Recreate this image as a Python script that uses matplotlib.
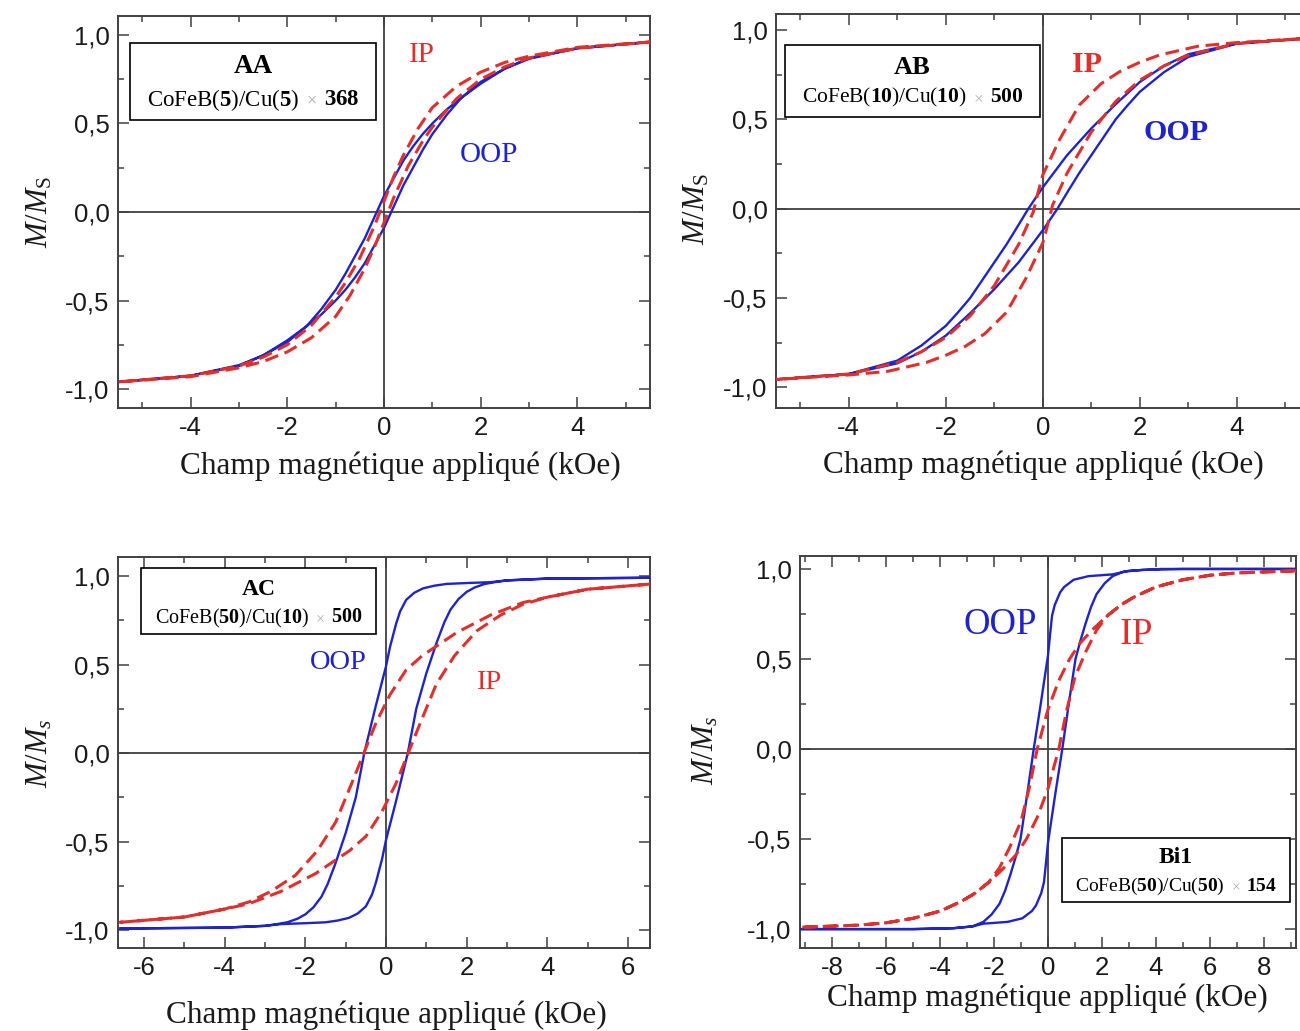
import matplotlib
matplotlib.use("Agg")
import matplotlib.pyplot as plt
from matplotlib.ticker import MultipleLocator, FuncFormatter
from matplotlib.patches import Rectangle
from matplotlib.offsetbox import TextArea, HPacker, AnnotationBbox

plt.rcParams['font.family'] = ['Liberation Sans', 'DejaVu Sans']
plt.rcParams['axes.unicode_minus'] = False
plt.rcParams['mathtext.fontset'] = 'custom'
plt.rcParams['mathtext.rm'] = 'Liberation Serif'
plt.rcParams['mathtext.it'] = 'Liberation Serif:italic'
plt.rcParams['mathtext.bf'] = 'Liberation Serif:bold'

# loops: field going down (upper branch) then back up (lower branch), kOe / M/Ms
aa_oop_h = [5.5, 4, 3, 2.5, 2, 1.6, 1.3, 1, 0.8, 0.6, 0.4, 0.2, 0, -0.2, -0.4, -0.6, -0.8, -1, -1.3, -1.6, -2, -2.5, -3, -4, -5.5,
            -4, -3, -2.5, -2, -1.6, -1.3, -1, -0.8, -0.6, -0.4, -0.2, 0, 0.2, 0.4, 0.6, 0.8, 1, 1.3, 1.6, 2, 2.5, 3, 4, 5.5]
aa_oop_m = [0.96, 0.925, 0.87, 0.81, 0.725, 0.645, 0.58, 0.5, 0.44, 0.37, 0.29, 0.19, 0.09, -0.03, -0.15, -0.25, -0.35, -0.44, -0.55, -0.645, -0.735, -0.81, -0.865, -0.925, -0.96,
            -0.925, -0.87, -0.81, -0.725, -0.645, -0.58, -0.5, -0.44, -0.37, -0.29, -0.19, -0.09, 0.03, 0.15, 0.25, 0.35, 0.44, 0.55, 0.645, 0.735, 0.81, 0.865, 0.925, 0.96]
aa_ip_h = [5.5, 4, 3, 2.5, 2, 1.5, 1, 0.7, 0.4, 0.2, 0, -0.2, -0.5, -0.8, -1, -1.5, -2, -2.5, -3, -4, -5.5,
           -4, -3, -2.5, -2, -1.5, -1, -0.7, -0.4, -0.2, 0, 0.2, 0.5, 0.8, 1, 1.5, 2, 2.5, 3, 4, 5.5]
aa_ip_m = [0.96, 0.93, 0.88, 0.845, 0.79, 0.71, 0.59, 0.47, 0.32, 0.2, 0.06, -0.08, -0.26, -0.40, -0.48, -0.64, -0.75, -0.82, -0.87, -0.925, -0.96,
           -0.93, -0.88, -0.845, -0.79, -0.71, -0.59, -0.47, -0.32, -0.2, -0.06, 0.08, 0.26, 0.40, 0.48, 0.64, 0.75, 0.82, 0.87, 0.925, 0.96]

ab_oop_h = [5.5, 4, 3, 2.5, 2, 1.5, 1, 0.5, 0.25, 0, -0.3, -0.5, -0.75, -1, -1.25, -1.5, -1.75, -2, -2.5, -3, -4, -5.5,
            -4, -3, -2.5, -2, -1.5, -1, -0.5, -0.25, 0, 0.3, 0.5, 0.75, 1, 1.25, 1.5, 1.75, 2, 2.5, 3, 4, 5.5]
ab_oop_m = [0.955, 0.925, 0.865, 0.80, 0.71, 0.585, 0.45, 0.3, 0.21, 0.12, 0.0, -0.09, -0.2, -0.3, -0.4, -0.5, -0.58, -0.655, -0.765, -0.85, -0.925, -0.955,
            -0.925, -0.865, -0.80, -0.71, -0.585, -0.45, -0.3, -0.21, -0.12, 0.0, 0.09, 0.2, 0.3, 0.4, 0.5, 0.58, 0.655, 0.765, 0.85, 0.925, 0.955]
ab_ip_h = [5.5, 4, 3.2, 2.4, 2, 1.6, 1.2, 0.75, 0.35, 0, -0.1, -0.2, -0.5, -1, -1.5, -2, -2.5, -3, -4, -5.5,
           -4, -3.2, -2.4, -2, -1.6, -1.2, -0.75, -0.35, 0, 0.1, 0.2, 0.5, 1, 1.5, 2, 2.5, 3, 4, 5.5]
ab_ip_m = [0.955, 0.93, 0.91, 0.86, 0.82, 0.77, 0.70, 0.58, 0.39, 0.19, 0.09, -0.02, -0.2, -0.43, -0.6, -0.72, -0.8, -0.86, -0.925, -0.955,
           -0.93, -0.91, -0.86, -0.82, -0.77, -0.70, -0.58, -0.39, -0.19, -0.09, 0.02, 0.2, 0.43, 0.6, 0.72, 0.8, 0.86, 0.925, 0.955]

ac_oop_h = [6.6, 4, 3, 2.6, 2, 1.5, 1.2, 0.92, 0.7, 0.5, 0.35, 0.25, 0.1, 0, -0.25, -0.54, -0.75, -1, -1.25, -1.45, -1.6, -1.8, -2, -2.2, -2.45, -2.7, -3, -4, -6.6,
            -4, -3, -2.6, -2, -1.5, -1.2, -0.92, -0.7, -0.5, -0.35, -0.25, -0.1, 0, 0.25, 0.54, 0.75, 1, 1.25, 1.45, 1.6, 1.8, 2, 2.2, 2.45, 2.7, 3, 4, 6.6]
ac_oop_m = [0.99, 0.985, 0.975, 0.965, 0.96, 0.955, 0.945, 0.93, 0.905, 0.865, 0.8, 0.73, 0.6, 0.49, 0.27, 0.0, -0.25, -0.45, -0.62, -0.74, -0.81, -0.87, -0.91, -0.935, -0.955, -0.965, -0.975, -0.985, -0.99,
            -0.985, -0.975, -0.965, -0.96, -0.955, -0.945, -0.93, -0.905, -0.865, -0.8, -0.73, -0.6, -0.49, -0.27, 0.0, 0.25, 0.45, 0.62, 0.74, 0.81, 0.87, 0.91, 0.935, 0.955, 0.965, 0.975, 0.985, 0.99]
ac_ip_h = [6.6, 5, 4, 3.4, 2.6, 1.75, 0.9, 0.5, 0.1, -0.25, -0.55, -0.85, -1.25, -1.7, -2.25, -2.85, -3.4, -4, -5, -6.6,
           -5, -4, -3.4, -2.6, -1.75, -0.9, -0.5, -0.1, 0.25, 0.55, 0.85, 1.25, 1.7, 2.25, 2.85, 3.4, 4, 5, 6.6]
ac_ip_m = [0.955, 0.925, 0.88, 0.85, 0.78, 0.68, 0.55, 0.47, 0.33, 0.17, 0.0, -0.17, -0.39, -0.55, -0.69, -0.78, -0.84, -0.88, -0.925, -0.955,
           -0.925, -0.88, -0.85, -0.78, -0.68, -0.55, -0.47, -0.33, -0.17, 0.0, 0.17, 0.39, 0.55, 0.69, 0.78, 0.84, 0.88, 0.925, 0.955]

bi1_oop_h = [9.2, 4.2, 3, 2.4, 1.5, 0.95, 0.6, 0.45, 0.25, 0.15, 0.08, 0, -0.28, -0.53, -0.78, -1.02, -1.2, -1.4, -1.6, -1.8, -2.1, -2.4, -2.8, -3.5, -5, -9.2,
             -5, -3.5, -2.8, -2.4, -1.5, -0.95, -0.6, -0.45, -0.25, -0.15, -0.08, 0, 0.28, 0.53, 0.78, 1.02, 1.2, 1.4, 1.6, 1.8, 2.1, 2.4, 2.8, 3.5, 5, 9.2]
bi1_oop_m = [1.0, 1.0, 0.99, 0.97, 0.96, 0.94, 0.9, 0.87, 0.8, 0.74, 0.64, 0.52, 0.24, 0.0, -0.26, -0.5, -0.6, -0.7, -0.79, -0.86, -0.92, -0.96, -0.985, -0.995, -1.0, -1.0,
             -1.0, -0.995, -0.985, -0.97, -0.96, -0.94, -0.9, -0.87, -0.8, -0.74, -0.64, -0.52, -0.24, 0.0, 0.26, 0.5, 0.6, 0.7, 0.79, 0.86, 0.92, 0.96, 0.985, 0.995, 1.0, 1.0]
bi1_ip_h = [9.2, 7, 6, 5, 4, 3.2, 2.7, 2.2, 1.7, 1.2, 0.8, 0.4, 0, -0.4, -0.7, -1, -1.4, -1.8, -2.2, -2.7, -3.2, -4, -5, -6, -7, -9.2,
            -7, -6, -5, -4, -3.2, -2.7, -2.2, -1.7, -1.2, -0.8, -0.4, 0, 0.4, 0.7, 1, 1.4, 1.8, 2.2, 2.7, 3.2, 4, 5, 6, 7, 9.2]
bi1_ip_m = [0.99, 0.978, 0.965, 0.94, 0.9, 0.845, 0.8, 0.74, 0.67, 0.59, 0.5, 0.38, 0.22, 0.0, -0.22, -0.4, -0.54, -0.66, -0.74, -0.8, -0.845, -0.9, -0.94, -0.965, -0.978, -0.99,
            -0.978, -0.965, -0.94, -0.9, -0.845, -0.8, -0.74, -0.67, -0.59, -0.5, -0.38, -0.22, 0.0, 0.22, 0.4, 0.54, 0.66, 0.74, 0.8, 0.845, 0.9, 0.94, 0.965, 0.978, 0.99]

BLUE = '#1f24c8'
RED = '#e0302e'
SERIF = ['Liberation Serif', 'DejaVu Serif']
W, H = 1300, 1031

fig = plt.figure(figsize=(13, 10.31), dpi=100)


def make_ax(px0, px1, py0, py1):
    return fig.add_axes([px0 / W, 1 - py1 / H, (px1 - px0) / W, (py1 - py0) / H])


def style(ax, xlim, ylim, xmajor, right=True):
    ax.set_xlim(*xlim)
    ax.set_ylim(*ylim)
    ax.axhline(0, color='#404040', lw=1.3, zorder=1)
    ax.axvline(0, color='#404040', lw=1.3, zorder=1)
    ax.xaxis.set_major_locator(MultipleLocator(xmajor))
    ax.xaxis.set_minor_locator(MultipleLocator(1))
    ax.yaxis.set_major_locator(MultipleLocator(0.5))
    ax.yaxis.set_minor_locator(MultipleLocator(0.25))
    ax.yaxis.set_major_formatter(FuncFormatter(lambda v, p: f"{v:.1f}".replace('.', ',')))
    ax.xaxis.set_major_formatter(FuncFormatter(lambda v, p: f"{v:.0f}"))
    ax.tick_params(which='both', direction='in', top=True, right=right, width=1.1, color='#404040')
    ax.tick_params(which='major', length=8, labelsize=18.5, pad=6, labelcolor='#1a1a1a')
    ax.tick_params(which='minor', length=4)
    for s in ax.spines.values():
        s.set_color('#404040')
        s.set_linewidth(1.4)
    if not right:
        ax.spines['right'].set_visible(False)


def loops(ax, oh, om, ih, im):
    ax.plot(oh, om, color=BLUE, lw=1.7, zorder=3)
    ax.plot(ih, im, color=RED, lw=2.2, dashes=(4.5, 2.2), zorder=4)


def box(ax, rect, title, layers, count, ty, ly, tsize, lsize):
    x0, y0, x1, y1 = rect
    ax.add_patch(Rectangle((x0, y0), x1 - x0, y1 - y0, transform=ax.transAxes,
                           fill=True, facecolor='white', edgecolor='black', lw=1.2, zorder=5))
    xc = (x0 + x1) / 2
    ax.text(xc, ty, title, transform=ax.transAxes, ha='center', va='center',
            family=SERIF, fontweight='bold', fontsize=tsize, zorder=6)
    props = dict(family=SERIF, fontsize=lsize, color='black')
    parts = [TextArea(layers, textprops=props),
             TextArea(r"$\times$", textprops=dict(props, color='#b0b0b0', fontsize=lsize * 0.8)),
             TextArea(count, textprops=props)]
    pack = HPacker(children=parts, align='center', pad=0, sep=lsize * 0.3)
    ab = AnnotationBbox(pack, (xc, ly), xycoords='axes fraction', frameon=False,
                        box_alignment=(0.5, 0.5), pad=0)
    ab.set_zorder(6)
    ax.add_artist(ab)


def label(ax, x, y, s, color, size, bold=False):
    ax.text(x, y, s, transform=ax.transAxes, ha='center', va='center', color=color,
            family=SERIF, fontsize=size, fontweight='bold' if bold else 'normal', zorder=6)


def figtext(px, py, s, size, rot=0):
    fig.text(px / W, 1 - py / H, s, ha='center', va='center', rotation=rot,
             family=SERIF, fontsize=size, color='#1a1a1a')


xlab = "Champ magnétique appliqué (kOe)"

# AA
ax1 = make_ax(118, 650, 16, 408)
style(ax1, (-5.5, 5.5), (-1.107, 1.107), 2)
loops(ax1, aa_oop_h, aa_oop_m, aa_ip_h, aa_ip_m)
box(ax1, (0.023, 0.735, 0.485, 0.931), "AA",
    r"CoFeB($\mathbf{5}$)/Cu($\mathbf{5}$)", r"$\mathbf{368}$", 0.87, 0.786, 19.5, 16.5)
label(ax1, 0.571, 0.90, "IP", RED, 21)
label(ax1, 0.697, 0.645, "OOP", BLUE, 21)
figtext(40, 212, r"$M/M_{\rm S}$", 22, 90)
figtext(400, 466, xlab, 22.5)

# AB
ax2 = make_ax(776, 1300, 14, 408)
style(ax2, (-5.5, 5.3), (-1.115, 1.09), 2, right=False)
loops(ax2, ab_oop_h, ab_oop_m, ab_ip_h, ab_ip_m)
box(ax2, (0.017, 0.739, 0.504, 0.921), "AB",
    r"CoFeB($\mathbf{10}$)/Cu($\mathbf{10}$)", r"$\mathbf{500}$", 0.863, 0.787, 19, 15.5)
label(ax2, 0.594, 0.871, "IP", RED, 21.5, bold=True)
label(ax2, 0.763, 0.698, "OOP", BLUE, 21.5, bold=True)
figtext(697, 209, r"$M/M_{\rm S}$", 22, 90)
figtext(1043, 465, xlab, 22.5)

# AC
ax3 = make_ax(118, 650, 557, 948)
style(ax3, (-6.65, 6.55), (-1.10, 1.107), 2)
loops(ax3, ac_oop_h, ac_oop_m, ac_ip_h, ac_ip_m)
box(ax3, (0.043, 0.803, 0.485, 0.972), "AC",
    r"CoFeB($\mathbf{50}$)/Cu($\mathbf{10}$)", r"$\mathbf{500}$", 0.916, 0.844, 17, 14.5)
label(ax3, 0.414, 0.729, "OOP", BLUE, 20.5)
label(ax3, 0.697, 0.678, "IP", RED, 20.5)
figtext(40, 753, r"$M/M_s$", 22, 90)
figtext(386, 1015, xlab, 22.5)

# Bi1
ax4 = make_ax(800, 1296, 556, 948)
style(ax4, (-9.2, 9.2), (-1.105, 1.072), 2)
loops(ax4, bi1_oop_h, bi1_oop_m, bi1_ip_h, bi1_ip_m)
box(ax4, (0.528, 0.117, 0.988, 0.281), "Bi1",
    r"CoFeB($\mathbf{50}$)/Cu($\mathbf{50}$)", r"$\mathbf{154}$", 0.23, 0.158, 17, 14)
label(ax4, 0.403, 0.824, "OOP", BLUE, 26.5)
label(ax4, 0.679, 0.798, "IP", RED, 27)
figtext(706, 750, r"$M/M_s$", 22, 90)
figtext(1047, 998, xlab, 22.5)

fig.savefig("out.png", dpi=100)
